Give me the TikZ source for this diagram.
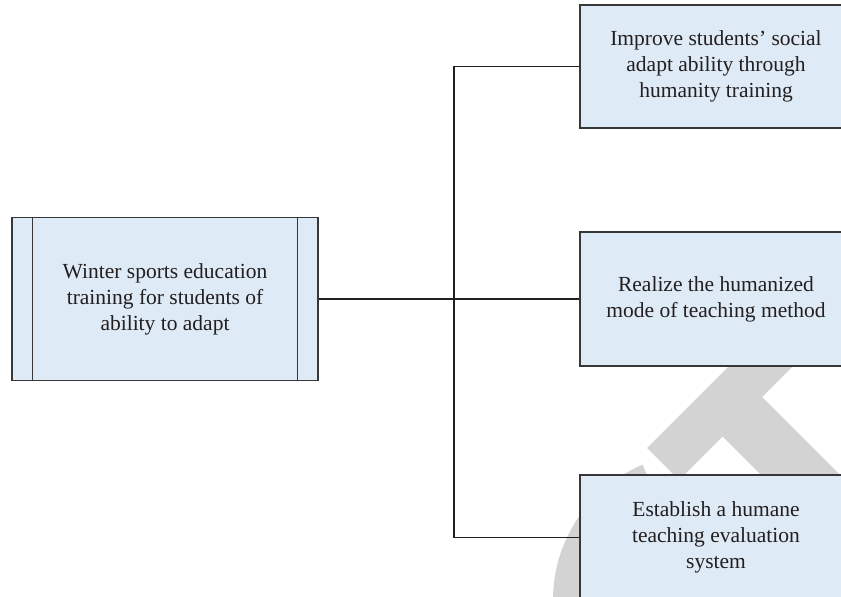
\documentclass[tikz,border=0pt]{standalone}
\usepackage{fontspec}
\setmainfont{Liberation Serif}
\usetikzlibrary{calc}
\definecolor{boxfill}{RGB}{222,234,245}
\definecolor{boxline}{RGB}{55,55,55}
\definecolor{wm}{RGB}{211,211,211}
\definecolor{txt}{RGB}{35,31,32}
\tikzset{
  box/.style={draw=boxline, line width=1.4pt, fill=boxfill, align=center,
    inner sep=0pt, text=txt, font=\fontsize{21.5}{26}\selectfont},
  conn/.style={draw=txt, line width=1.2pt}
}
\begin{document}
\begin{tikzpicture}[x=1pt,y=1pt]
\useasboundingbox (0,0) rectangle (841,597);
\clip (0,0) rectangle (841,597);
% watermark
\fill[wm] (647,149) -- (897.5,399.5) -- (929.5,367.5) -- (762,200) -- (1000,-38)
  -- (950,-67) -- (722.5,160.5) -- (679,117) -- cycle;
\fill[wm] ($(700,-3)+(113:147)$) arc[start angle=113,end angle=250,radius=147pt]
  -- ($(700,-3)+(250:100)$) arc[start angle=250,end angle=113,radius=100pt] -- cycle;
% nodes
\node[box, minimum width=306pt, minimum height=163pt] (L) at (165,298)
  {Winter sports education\\training for students of\\ability to adapt};
\draw[boxline, line width=1.4pt] (L.north west) ++(21,0) -- ++(0,-163);
\draw[boxline, line width=1.4pt] (L.north east) ++(-21,0) -- ++(0,-163);
\node[box, minimum width=272pt, minimum height=123pt] (T) at (716,530.5)
  {Improve students’ social\\adapt ability through\\humanity training};
\node[box, minimum width=272pt, minimum height=134pt] (M) at (716,298)
  {Realize the humanized\\mode of teaching method};
\node[box, minimum width=272pt, minimum height=125pt] (B) at (716,59.5)
  {Establish a humane\\teaching evaluation\\system};
\coordinate (J) at (454,298);
% connectors
\draw[conn] (L.east) -- (M.west);
\draw[conn] (T.west) -| (J) |- (B.west);
\end{tikzpicture}
\end{document}
